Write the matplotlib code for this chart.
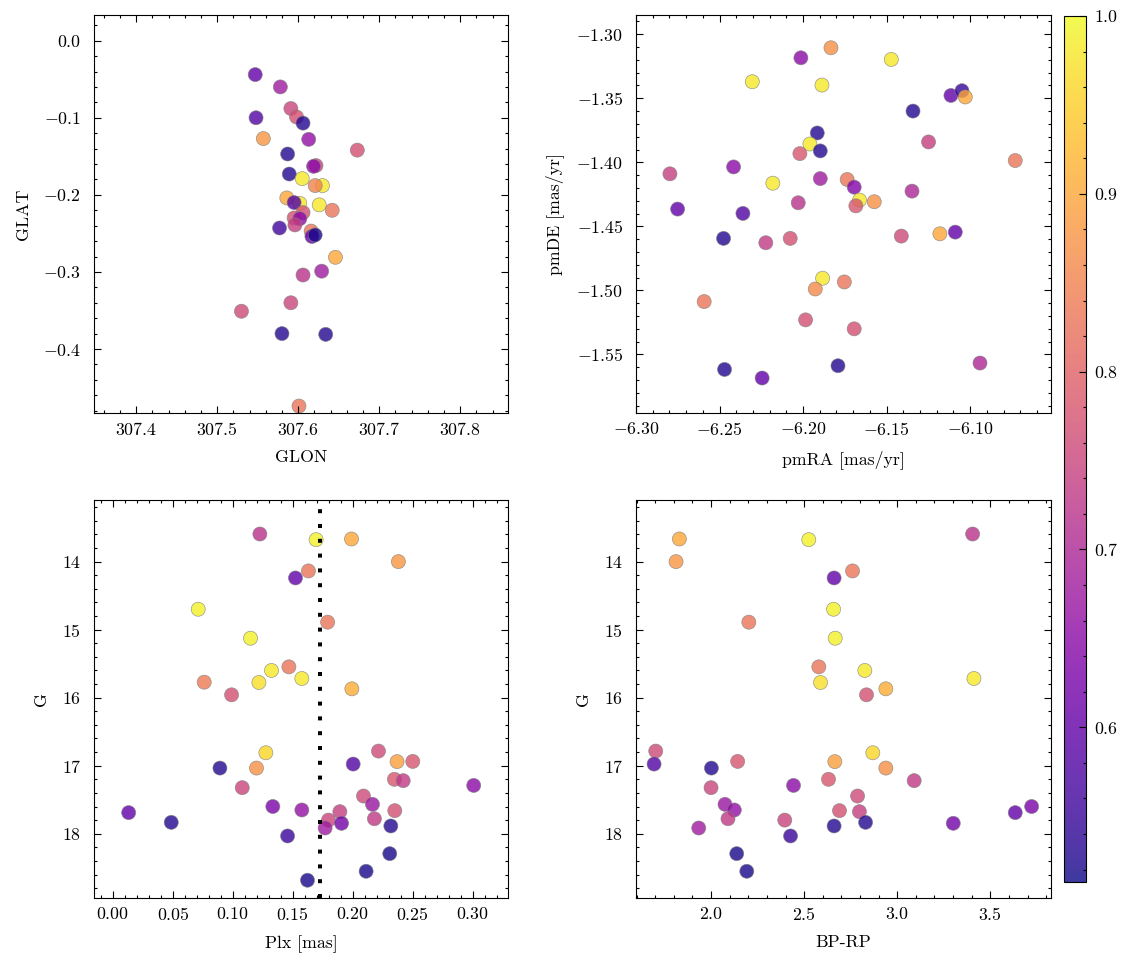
import numpy as np
import matplotlib
matplotlib.use('Agg')
import matplotlib.pyplot as plt
from matplotlib.ticker import AutoMinorLocator, MultipleLocator

# scienceplots-like look
plt.rcParams['font.family'] = 'serif'
plt.rcParams['font.serif'] = ['cmr10', 'DejaVu Serif']
plt.rcParams['mathtext.fontset'] = 'cm'
plt.rcParams['axes.formatter.use_mathtext'] = True
plt.rcParams['font.size'] = 8
plt.rcParams['axes.linewidth'] = 0.5
plt.rcParams['axes.labelpad'] = 5.5
for ax_ in ['xtick', 'ytick']:
    plt.rcParams[ax_ + '.direction'] = 'in'
    plt.rcParams[ax_ + '.major.size'] = 3
    plt.rcParams[ax_ + '.minor.size'] = 1.5
    plt.rcParams[ax_ + '.major.width'] = 0.5
    plt.rcParams[ax_ + '.minor.width'] = 0.5
    plt.rcParams[ax_ + '.minor.visible'] = True
plt.rcParams['ytick.major.pad'] = 5.8
plt.rcParams['xtick.top'] = True
plt.rcParams['ytick.right'] = True

# top-left: galactic coords
glon = [307.547, 307.578, 307.591, 307.598, 307.606, 307.548, 307.557, 307.613,
        307.673, 307.587, 307.622, 307.619, 307.589, 307.605, 307.630, 307.621,
        307.586, 307.602, 307.595, 307.626, 307.642, 307.606, 307.595, 307.602,
        307.596, 307.577, 307.616, 307.617, 307.621, 307.646, 307.629, 307.606,
        307.591, 307.530, 307.580, 307.634, 307.601]
glat = [-0.044, -0.060, -0.088, -0.099, -0.107, -0.100, -0.127, -0.128,
        -0.142, -0.147, -0.162, -0.163, -0.173, -0.179, -0.188, -0.188,
        -0.204, -0.211, -0.210, -0.213, -0.220, -0.223, -0.230, -0.231,
        -0.239, -0.243, -0.247, -0.254, -0.252, -0.281, -0.299, -0.304,
        -0.340, -0.351, -0.380, -0.381, -0.474]
prob_tl = [0.60, 0.68, 0.75, 0.77, 0.53, 0.58, 0.88, 0.66, 0.77, 0.53, 0.75, 0.65,
           0.53, 0.98, 0.98, 0.85, 0.90, 0.98, 0.58, 0.98, 0.83, 0.77, 0.77, 0.65,
           0.74, 0.56, 0.83, 0.60, 0.52, 0.90, 0.68, 0.72, 0.75, 0.76, 0.53, 0.53,
           0.83]

# top-right: proper motions
pmra = [-6.1833, -6.2013, -6.1472, -6.2304, -6.1887, -6.1115, -6.1049, -6.1029,
        -6.1342, -6.1915, -6.1959, -6.1897, -6.2019, -6.1249, -6.0730, -6.2797,
        -6.2416, -6.2181, -6.1897, -6.1736, -6.1694, -6.1662, -6.1684, -6.1574,
        -6.2029, -6.1348, -6.2751, -6.2360, -6.2476, -6.2223, -6.2077, -6.1412,
        -6.1181, -6.1089, -6.1883, -6.1927, -6.1753, -6.2592, -6.1985, -6.1694,
        -6.0941, -6.2470, -6.1791, -6.2245]
pmde = [-1.3106, -1.3184, -1.3197, -1.3371, -1.3397, -1.3478, -1.3441, -1.3490,
        -1.3600, -1.3771, -1.3857, -1.3911, -1.3932, -1.3841, -1.3986, -1.4090,
        -1.4036, -1.4163, -1.4127, -1.4134, -1.4194, -1.4295, -1.4340, -1.4308,
        -1.4316, -1.4225, -1.4365, -1.4399, -1.4594, -1.4628, -1.4594, -1.4576,
        -1.4558, -1.4545, -1.4905, -1.4989, -1.4934, -1.5087, -1.5230, -1.5300,
        -1.5567, -1.5617, -1.5588, -1.5684]
prob_tr = [0.87, 0.65, 0.98, 0.98, 0.98, 0.60, 0.55, 0.90, 0.53, 0.53, 0.98, 0.53,
           0.78, 0.74, 0.83, 0.74, 0.65, 0.98, 0.68, 0.83, 0.64, 0.98, 0.78, 0.87,
           0.72, 0.70, 0.60, 0.58, 0.53, 0.73, 0.77, 0.76, 0.90, 0.60, 0.98, 0.86,
           0.83, 0.83, 0.77, 0.77, 0.70, 0.53, 0.53, 0.60]

# bottom: parallax, magnitude, colour
plx = [0.1225, 0.1694, 0.1989, 0.2380, 0.1630, 0.1522, 0.0711, 0.1790, 0.1147,
       0.1467, 0.1322, 0.1575, 0.0761, 0.1217, 0.1992, 0.0989, 0.1275, 0.2214,
       0.0892, 0.1197, 0.2003, 0.2369, 0.2500, 0.1078, 0.2347, 0.2420, 0.3008,
       0.2089, 0.2164, 0.1333, 0.1575, 0.1892, 0.2350, 0.0131, 0.1797, 0.1769,
       0.1906, 0.2180, 0.0486, 0.2317, 0.1456, 0.2308, 0.2111, 0.1622]
gmag = [13.594, 13.677, 13.667, 14.000, 14.137, 14.240, 14.700, 14.890, 15.126,
        15.547, 15.600, 15.718, 15.772, 15.777, 15.870, 15.958, 16.810, 16.785,
        17.035, 17.035, 16.976, 16.940, 16.937, 17.323, 17.200, 17.220, 17.290,
        17.446, 17.568, 17.600, 17.651, 17.676, 17.661, 17.690, 17.800, 17.916,
        17.847, 17.780, 17.833, 17.886, 18.033, 18.293, 18.552, 18.684]
bp_rp = [3.405, 2.525, 1.830, 1.812, 2.760, 2.661, 2.658, 2.203, 2.667,
         2.579, 2.826, 3.412, np.nan, 2.588, 2.939, 2.835, 2.869, 1.703,
         2.002, 2.939, 1.694, 2.665, 2.143, 2.000, 2.631, 3.091, 2.443,
         2.787, 2.075, 3.722, 2.125, 2.797, 2.690, 3.634, 2.396, 1.934,
         3.301, 2.091, 2.830, 2.661, 2.427, 2.138, 2.192, np.nan]
prob_b = [0.72, 0.99, 0.90, 0.88, 0.83, 0.60, 0.99, 0.83, 0.99, 0.83, 0.98, 0.98,
          0.84, 0.97, 0.91, 0.77, 0.96, 0.76, 0.53, 0.87, 0.58, 0.89, 0.78, 0.75,
          0.78, 0.73, 0.65, 0.76, 0.67, 0.63, 0.66, 0.74, 0.77, 0.60, 0.75, 0.68,
          0.62, 0.73, 0.53, 0.53, 0.55, 0.52, 0.52, 0.52]

plx_cut = 0.173
vmin, vmax = 0.513, 1.0

fig = plt.figure(figsize=(1133 / 160, 965 / 160), dpi=160)
W, H = 1133, 965


def box(x0, y0, x1, y1):
    return [x0 / W, 1 - y1 / H, (x1 - x0) / W, (y1 - y0) / H]


ax1 = fig.add_axes(box(94, 15, 508, 413))
ax2 = fig.add_axes(box(636, 15, 1051, 413))
ax3 = fig.add_axes(box(94, 500, 508, 898))
ax4 = fig.add_axes(box(636, 500, 1051, 898))
cax = fig.add_axes(box(1064, 16, 1086, 882))

kw = dict(cmap='plasma', vmin=vmin, vmax=vmax, s=40, alpha=0.8,
          edgecolors='grey', linewidths=0.3)

sc = ax1.scatter(glon, glat, c=prob_tl, **kw)
ax1.set_xlim(307.348, 307.859)
ax1.set_ylim(-0.483, 0.0333)
ax1.ticklabel_format(useOffset=False)
ax1.set_xlabel('GLON')
ax1.set_ylabel('GLAT')

ax2.scatter(pmra, pmde, c=prob_tr, **kw)
ax2.set_xlim(-6.300, -6.0516)
ax2.set_ylim(-1.5957, -1.285)
ax2.xaxis.set_major_locator(MultipleLocator(0.05))
ax2.yaxis.set_major_locator(MultipleLocator(0.05))
ax2.set_xlabel('pmRA [mas/yr]')
ax2.set_ylabel('pmDE [mas/yr]')

ax3.scatter(plx, gmag, c=prob_b, **kw)
ax3.axvline(plx_cut, color='black', lw=1.8, linestyle=(0, (1, 2.7)))
ax3.set_xlim(-0.0158, 0.3294)
ax3.set_ylim(18.945, 13.094)
ax3.xaxis.set_major_locator(MultipleLocator(0.05))
ax3.yaxis.set_major_locator(MultipleLocator(1))
ax3.set_xlabel('Plx [mas]')
ax3.set_ylabel('G')

ax4.scatter(bp_rp, gmag, c=prob_b, **kw)
ax4.set_xlim(1.597, 3.826)
ax4.set_ylim(18.945, 13.094)
ax4.xaxis.set_major_locator(MultipleLocator(0.5))
ax4.yaxis.set_major_locator(MultipleLocator(1))
ax4.set_xlabel('BP-RP')
ax4.set_ylabel('G')

for a in (ax1, ax2, ax3, ax4):
    a.xaxis.set_minor_locator(AutoMinorLocator(5))
    a.yaxis.set_minor_locator(AutoMinorLocator(5))

cb = fig.colorbar(sc, cax=cax)
cb.solids.set_alpha(0.8)
cb.outline.set_linewidth(0.5)
cb.set_ticks([0.6, 0.7, 0.8, 0.9, 1.0])
cb.ax.yaxis.set_minor_locator(MultipleLocator(0.02))
cb.ax.tick_params(which='both', direction='in', left=False, right=True, pad=3.5)

fig.savefig('out.png', dpi=160)
